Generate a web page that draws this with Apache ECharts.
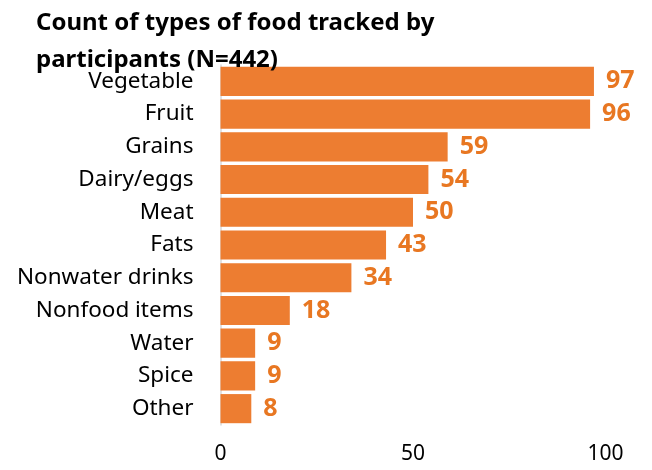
<!DOCTYPE html>
<html><head><meta charset="utf-8">
<script src="https://cdn.jsdelivr.net/npm/echarts@6/dist/echarts.min.js"></script>
<style>html,body{margin:0;padding:0;background:#fff}#c{width:652px;height:470px}</style>
</head><body><div id="c"></div>
<script>
const categories = ["Vegetable","Fruit","Grains","Dairy/eggs","Meat","Fats","Nonwater drinks","Nonfood items","Water","Spice","Other"];
const counts = [97,96,59,54,50,43,34,18,9,9,8];
const titleText = "Count of types of food tracked by\nparticipants (N=442)";

const chart = echarts.init(document.getElementById('c'));
chart.setOption({
  animation: false,
  title: {
    text: titleText, left: 31, top: 0,
    textStyle: {fontFamily: 'Noto Sans', fontWeight: 'bold', fontSize: 24, lineHeight: 37, color: '#000'}
  },
  grid: {left: 220.5, right: 46.5, top: 65, bottom: 45},
  xAxis: {
    type: 'value', min: 0, max: 100, interval: 50,
    axisLine: {show: false}, axisTick: {show: false}, splitLine: {show: false},
    axisLabel: {fontFamily: 'Noto Sans', fontSize: 21, color: '#000', margin: 19}
  },
  yAxis: {
    type: 'category', data: categories, inverse: true,
    axisLine: {show: true, lineStyle: {color: '#D9D9D9', width: 1.5}},
    axisTick: {show: false},
    axisLabel: {fontFamily: 'Noto Sans', fontSize: 22.5, color: '#000', margin: 27}
  },
  series: [{
    type: 'bar', data: counts, barCategoryGap: '11%',
    itemStyle: {color: '#ED7D31'},
    label: {show: true, position: 'right', distance: 12, fontFamily: 'Noto Sans', fontWeight: 'bold', fontSize: 25, color: '#E87722'}
  }]
});
</script></body></html>
